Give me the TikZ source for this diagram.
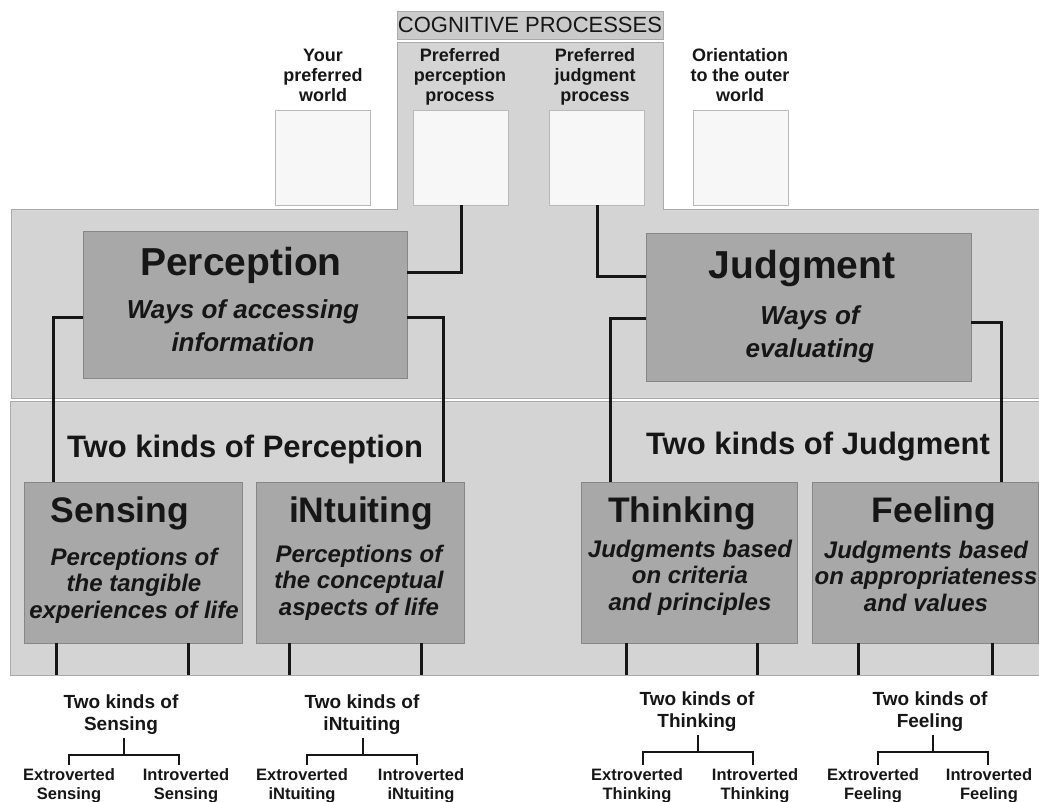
\documentclass[tikz,border=0pt]{standalone}
\usepackage{fontspec}
\setmainfont{Liberation Sans}
\usetikzlibrary{calc}
\definecolor{bandgray}{RGB}{212,212,212}
\definecolor{bandline}{RGB}{170,170,170}
\definecolor{boxgray}{RGB}{168,168,168}
\definecolor{boxline}{RGB}{135,135,135}
\definecolor{paper}{RGB}{247,247,247}
\definecolor{paperline}{RGB}{185,185,185}
\definecolor{cogfill}{RGB}{202,202,202}
\definecolor{ink}{RGB}{22,22,22}
\begin{document}
\begin{tikzpicture}[x=1pt,y=-1pt,
  paperbox/.style={draw=paperline, fill=paper, line width=0.8pt, minimum width=95pt, minimum height=95pt, inner sep=0pt},
  bigbox/.style={draw=boxline, fill=boxgray, line width=0.8pt, inner sep=0pt},
  conn/.style={draw=ink, line width=3pt},
  treeline/.style={draw=ink, line width=2.6pt},
  toplabel/.style={font=\fontsize{18}{20}\selectfont\bfseries, text=ink, align=center, inner sep=0pt, anchor=base},
  maintitle/.style={font=\fontsize{39}{42}\selectfont\bfseries, text=ink, inner sep=0pt, anchor=base},
  subtitle/.style={font=\fontsize{35.5}{38}\selectfont\bfseries, text=ink, inner sep=0pt, anchor=base},
  kindlabel/.style={font=\fontsize{31}{34}\selectfont\bfseries, text=ink, inner sep=0pt, anchor=base},
  bigdesc/.style={font=\fontsize{26}{33}\selectfont\bfseries\itshape, text=ink, align=center, inner sep=0pt, anchor=base},
  desc/.style={font=\fontsize{24}{26.5}\selectfont\bfseries\itshape, text=ink, align=center, inner sep=0pt, anchor=base},
  twokinds/.style={font=\fontsize{19}{22}\selectfont\bfseries, text=ink, align=center, inner sep=0pt, anchor=base},
  leaf/.style={font=\fontsize{16.5}{19}\selectfont\bfseries, text=ink, align=center, inner sep=0pt, anchor=base}]
\useasboundingbox (0,0) rectangle (1039,801);
\fill[white] (0,0) rectangle (1039,801);
\begin{scope}
\clip (0,0) rectangle (1039,801);
% bands
\filldraw[fill=bandgray, draw=bandline, line width=1pt] (10,401) rectangle (1045,675);
\filldraw[fill=bandgray, draw=bandline, line width=1pt] (11,398) -- (11,209) -- (397,209) -- (397,42) -- (663,42) -- (663,209) -- (1045,209) -- (1045,398) -- cycle;
% cognitive processes header
\node[draw=bandline, fill=cogfill, line width=0.8pt, minimum width=266pt, minimum height=28pt, inner sep=0pt,
      font=\fontsize{22}{24}\selectfont, text=ink] (cog) at (530,25) {COGNITIVE PROCESSES};
% top white boxes
\node[paperbox] (wb1) at (322.5,157.5) {};
\node[paperbox] (wb2) at (461,157.5) {};
\node[paperbox] (wb3) at (597,157.5) {};
\node[paperbox] (wb4) at (741,157.5) {};
\node[toplabel] (l1) at (323,101) {Your\\preferred\\world};
\node[toplabel] (l2) at (460,101) {Preferred\\perception\\process};
\node[toplabel] (l3) at (595,101) {Preferred\\judgment\\process};
\node[toplabel] (l4) at (740,101) {Orientation\\to the outer\\world};
% perception / judgment
\node[bigbox, minimum width=324pt, minimum height=147pt] (perc) at (245,304.5) {};
\node[bigbox, minimum width=325pt, minimum height=148pt] (judg) at (808.5,307) {};
\node[maintitle] (percT) at (241,275) {Perception};
\node[bigdesc] (percD) at (243,351) {Ways of accessing\\information};
\node[maintitle] (judgT) at (802,278) {Judgment};
\node[bigdesc] (judgD) at (810,357) {Ways of\\evaluating};
% kinds labels
\node[kindlabel] (kP) at (245,457) {Two kinds of Perception};
\node[kindlabel] (kJ) at (818,454) {Two kinds of Judgment};
% four function boxes
\node[bigbox, minimum width=218pt, minimum height=161pt] (sens) at (133,562.5) {};
\node[bigbox, minimum width=208pt, minimum height=161pt] (intu) at (360,562.5) {};
\node[bigbox, minimum width=216pt, minimum height=161pt] (thin) at (689,562.5) {};
\node[bigbox, minimum width=226pt, minimum height=161pt] (feel) at (925,562.5) {};
\node[subtitle] (sensT) at (120,522) {Sensing};
\node[subtitle] (intuT) at (361,522) {iNtuiting};
\node[subtitle] (thinT) at (682,522) {Thinking};
\node[subtitle] (feelT) at (934,522) {Feeling};
\node[desc] (sensD) at (134,618) {Perceptions of\\the tangible\\experiences of life};
\node[desc] (intuD) at (359,615) {Perceptions of\\the conceptual\\aspects of life};
\node[desc] (thinD) at (690,610) {Judgments based\\on criteria\\and principles};
\node[desc] (feelD) at (926,611) {Judgments based\\on appropriateness\\and values};
% connectors
\draw[conn] (wb2.south) |- ([yshift=32.5pt]perc.east);
\draw[conn] ([yshift=-12.5pt]perc.west) -| ([xshift=30pt]sens.north west);
\draw[conn] ([yshift=-12.5pt]perc.east) -| ([xshift=-21pt]intu.north east);
\draw[conn] (wb3.south) |- ([yshift=31pt]judg.west);
\draw[conn] ([yshift=-11pt]judg.west) -| ([xshift=30pt]thin.north west);
\draw[conn] ([yshift=-15pt]judg.east) -| ([xshift=-37pt]feel.north east);
% legs
\draw[conn] ([xshift=33pt]sens.south west) -- ++(0,32);
\draw[conn] ([xshift=165pt]sens.south west) -- ++(0,32);
\draw[conn] ([xshift=34pt]intu.south west) -- ++(0,32);
\draw[conn] ([xshift=166pt]intu.south west) -- ++(0,32);
\draw[conn] ([xshift=46pt]thin.south west) -- ++(0,32);
\draw[conn] ([xshift=177pt]thin.south west) -- ++(0,32);
\draw[conn] ([xshift=47pt]feel.south west) -- ++(0,32);
\draw[conn] ([xshift=181pt]feel.south west) -- ++(0,32);
\end{scope}
% bottom trees
\node[twokinds] (kS) at (121,730) {Two kinds of\\Sensing};
\node[twokinds] (kN) at (362,730) {Two kinds of\\iNtuiting};
\node[twokinds] (kT) at (697,727) {Two kinds of\\Thinking};
\node[twokinds] (kF) at (930,727) {Two kinds of\\Feeling};
\node[leaf] (eS) at (69,799) {Extroverted\\Sensing};
\node[leaf] (iS) at (186,799) {Introverted\\Sensing};
\node[leaf] (eN) at (302,799) {Extroverted\\iNtuiting};
\node[leaf] (iN) at (421,799) {Introverted\\iNtuiting};
\node[leaf] (eT) at (637,799) {Extroverted\\Thinking};
\node[leaf] (iT) at (755,799) {Introverted\\Thinking};
\node[leaf] (eF) at (873,799) {Extroverted\\Feeling};
\node[leaf] (iF) at (989,799) {Introverted\\Feeling};
\coordinate (jS) at (124,755);
\coordinate (jN) at (363,755);
\coordinate (jT) at (698,752);
\coordinate (jF) at (933,752);
\draw[treeline] (124,738) -- (jS);
\draw[treeline] (363,738) -- (jN);
\draw[treeline] (698,735) -- (jT);
\draw[treeline] (933,735) -- (jF);
\draw[treeline] (69,765) |- (jS) -| (179,765);
\draw[treeline] (307,765) |- (jN) -| (417,765);
\draw[treeline] (643,765) |- (jT) -| (753,765);
\draw[treeline] (878,765) |- (jF) -| (988,765);
\end{tikzpicture}
\end{document}
